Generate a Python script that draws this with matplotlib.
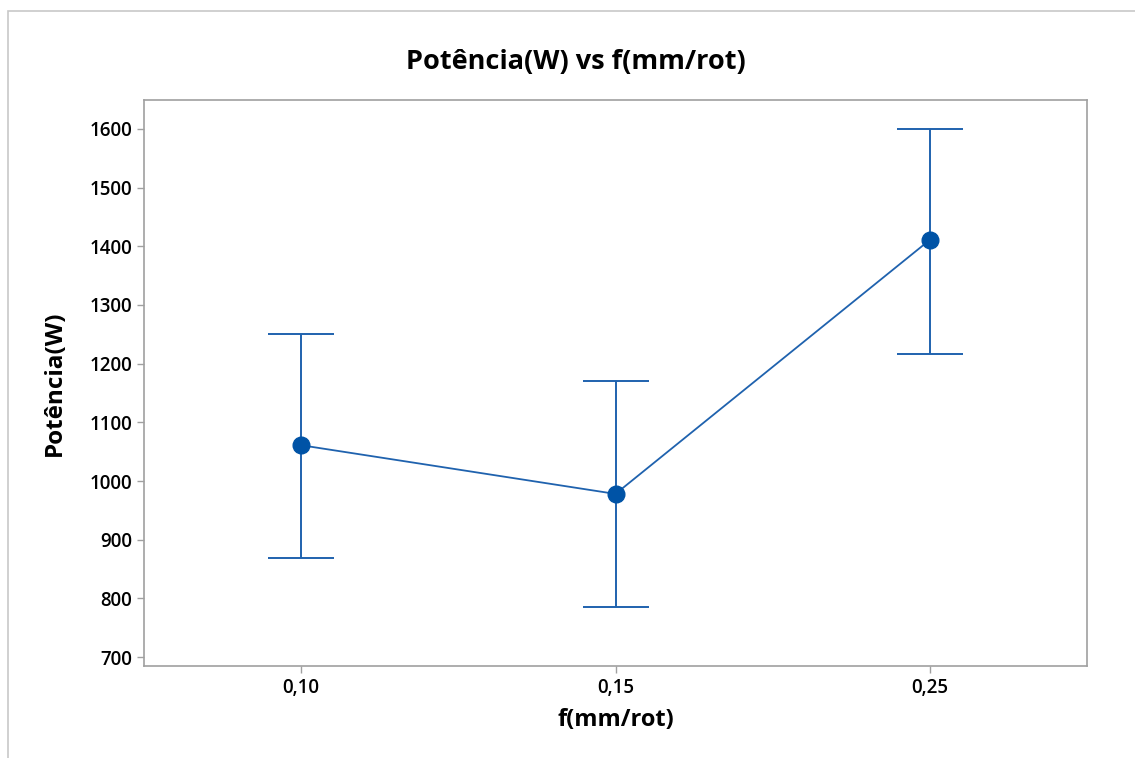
import matplotlib
matplotlib.use("Agg")
import matplotlib.pyplot as plt
from matplotlib.patches import Rectangle

categories = ["0,10", "0,15", "0,25"]
means = [1061, 978, 1411]
upper = [1251, 1170, 1600]
lower = [869, 786, 1216]
yticks = [700, 800, 900, 1000, 1100, 1200, 1300, 1400, 1500, 1600]

plt.rcParams['font.family'] = ['Open Sans', 'DejaVu Sans']

W, H = 1135, 758
fig = plt.figure(figsize=(W/100, H/100), dpi=100)
ax = fig.add_axes([144/W, 1-666/H, (1087-144)/W, (666-100)/H])

# outer frame
fig.patches.append(Rectangle((8/W, -0.1), 1.2, 1-11/H+0.1, transform=fig.transFigure,
                             fill=False, edgecolor='#c8c8c8', lw=1.2))

xs = list(range(len(categories)))
col = '#1f62ae'
yerr = [[m - l for m, l in zip(means, lower)], [u - m for m, u in zip(means, upper)]]
ax.errorbar(xs, means, yerr=yerr, fmt='none', ecolor=col, elinewidth=1.4,
            capsize=23.5, capthick=1.4, zorder=2)
ax.plot(xs, means, color=col, lw=1.3, zorder=3)
ax.plot(xs, means, 'o', color='#0053a6', ms=12, zorder=4)

ax.set_xlim(-0.5, 2.5)
ax.set_ylim(684.7, 1649.4)
ax.set_xticks(xs)
ax.set_xticklabels(categories)
ax.set_yticks(yticks)
for s in ax.spines.values():
    s.set_color('#a0a0a0')
    s.set_linewidth(1.2)
ax.tick_params(colors='#a0a0a0', labelcolor='black', length=5, width=1.0,
               labelsize=13.5)
for lab in ax.get_xticklabels() + ax.get_yticklabels():
    lab.set_fontweight('semibold')

ax.set_xlabel('f(mm/rot)', fontsize=17, fontweight='bold', labelpad=7)
ax.set_ylabel('Potência(W)', fontsize=17.5, fontweight='bold', labelpad=16)
fig.text(576/W, 1-62/H, 'Potência(W) vs f(mm/rot)', ha='center', va='center',
         fontsize=19.5, fontweight='bold')

fig.savefig('out.png', dpi=100)
